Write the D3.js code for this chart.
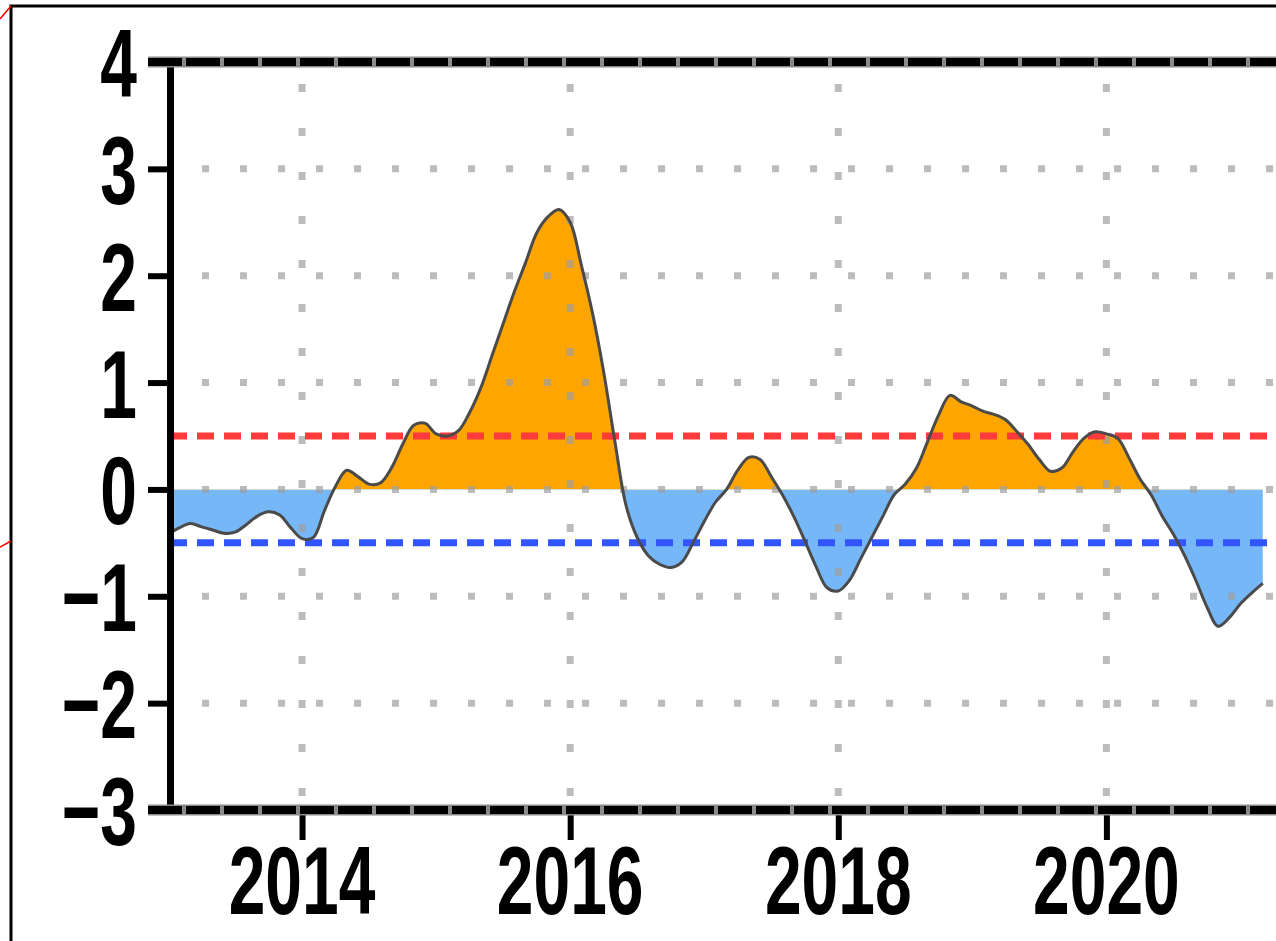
<!DOCTYPE html>
<html>
<head>
<meta charset="utf-8">
<script src="https://cdn.jsdelivr.net/npm/d3@7"></script>
<style>
  body { margin: 0; background: #fff; }
  svg { display: block; }
</style>
</head>
<body>
<svg id="chart" width="1276" height="941"></svg>
<script>
// monthly index values, Jan .. Dec
const START_YEAR = 2013;
const v2013 = [-0.42, -0.36, -0.32, -0.35, -0.38, -0.41, -0.40, -0.33, -0.25, -0.21, -0.24, -0.36];
const v2014 = [-0.46, -0.45, -0.20, 0.03, 0.18, 0.12, 0.05, 0.06, 0.20, 0.42, 0.60, 0.62];
const v2015 = [0.52, 0.50, 0.55, 0.72, 0.95, 1.25, 1.55, 1.85, 2.12, 2.40, 2.55, 2.62];
const v2016 = [2.50, 2.10, 1.65, 1.10, 0.45, -0.15, -0.45, -0.62, -0.70, -0.73, -0.68, -0.50];
const v2017 = [-0.30, -0.12, 0.00, 0.18, 0.30, 0.28, 0.12, -0.05, -0.25, -0.48, -0.72, -0.92];
const v2018 = [-0.95, -0.85, -0.65, -0.45, -0.25, -0.05, 0.05, 0.20, 0.45, 0.70, 0.88, 0.82];
const v2019 = [0.78, 0.73, 0.70, 0.65, 0.54, 0.42, 0.28, 0.17, 0.20, 0.35, 0.48, 0.54];
const v2020 = [0.52, 0.48, 0.30, 0.10, -0.05, -0.25, -0.42, -0.62, -0.85, -1.10, -1.28, -1.20];
const v2021 = [-1.07, -0.97, -0.88];

const yTicks = [-3, -2, -1, 0, 1, 2, 3, 4];
const xTicks = [2014, 2016, 2018, 2020];
const elNino = 0.5;
const laNina = -0.5;

const values = [].concat(v2013, v2014, v2015, v2016, v2017, v2018, v2019, v2020, v2021);
const data = values.map((v, i) => ({ t: START_YEAR + i / 12, v: v }));

const L = 170, T = 62, B = 810, R = 1278;
const svg = d3.select('#chart');

const x = d3.scaleLinear().domain([2013.015, 2021.28]).range([L, R]);
const y = d3.scaleLinear().domain([-3, 4]).range([B, T]);

// outer frame + stray red marks
svg.append('rect')
    .attr('x', 11).attr('y', 6)
    .attr('width', 1300).attr('height', 1000)
    .attr('fill', 'none').attr('stroke', '#000').attr('stroke-width', 3);
svg.append('line').attr('x1', 0).attr('y1', 19).attr('x2', 11).attr('y2', 6)
    .attr('stroke', 'red').attr('stroke-width', 1.5);
svg.append('line').attr('x1', 0).attr('y1', 547).attr('x2', 11).attr('y2', 541)
    .attr('stroke', 'red').attr('stroke-width', 1.5);

svg.append('clipPath').attr('id', 'plot')
    .append('rect').attr('x', L).attr('y', T).attr('width', R - L).attr('height', B - T);
svg.append('clipPath').attr('id', 'above')
    .append('rect').attr('x', L).attr('y', T).attr('width', R - L).attr('height', y(0) - T);
svg.append('clipPath').attr('id', 'below')
    .append('rect').attr('x', L).attr('y', y(0)).attr('width', R - L).attr('height', B - y(0));

const area = d3.area()
    .x(d => x(d.t))
    .y0(y(0))
    .y1(d => y(d.v))
    .curve(d3.curveCatmullRom.alpha(0.5));

const line = d3.line()
    .x(d => x(d.t))
    .y(d => y(d.v))
    .curve(d3.curveCatmullRom.alpha(0.5));

const g = svg.append('g').attr('clip-path', 'url(#plot)');

g.append('path').datum(data)
    .attr('d', area)
    .attr('fill', '#ffa500')
    .attr('clip-path', 'url(#above)');
g.append('path').datum(data)
    .attr('d', area)
    .attr('fill', '#75b7f7')
    .attr('clip-path', 'url(#below)');

// dotted grid
g.selectAll('.hgrid')
    .data(yTicks.filter(d => d > -3 && d < 4))
    .enter().append('line')
    .attr('class', 'hgrid')
    .attr('x1', L + 32).attr('x2', R)
    .attr('y1', d => y(d)).attr('y2', d => y(d))
    .attr('stroke', '#a0a0a0').attr('stroke-width', 7)
    .attr('stroke-dasharray', '7,31')
    .attr('opacity', 0.7);

g.selectAll('.vgrid')
    .data(xTicks)
    .enter().append('line')
    .attr('class', 'vgrid')
    .attr('x1', d => x(d)).attr('x2', d => x(d))
    .attr('y1', T + 22).attr('y2', B)
    .attr('stroke', '#a0a0a0').attr('stroke-width', 7)
    .attr('stroke-dasharray', '8,36')
    .attr('opacity', 0.7);

// threshold lines
g.append('line')
    .attr('x1', L).attr('x2', R)
    .attr('y1', y(elNino)).attr('y2', y(elNino))
    .attr('stroke', '#ff3a3a').attr('stroke-width', 7)
    .attr('stroke-dasharray', '17,10');
g.append('line')
    .attr('x1', L).attr('x2', R)
    .attr('y1', y(laNina)).attr('y2', y(laNina))
    .attr('stroke', '#3355ff').attr('stroke-width', 7)
    .attr('stroke-dasharray', '17,10');

g.append('path').datum(data)
    .attr('d', line)
    .attr('fill', 'none')
    .attr('stroke', '#4a4a4a')
    .attr('stroke-width', 3);

// axes
const yAxis = d3.axisLeft(y).tickValues(yTicks).tickSize(22).tickFormat('');
svg.append('g')
    .attr('transform', 'translate(' + L + ',0)')
    .call(yAxis)
    .call(a => a.select('.domain').attr('stroke-width', 7))
    .call(a => a.selectAll('.tick line').attr('stroke-width', 6));

const xAxis = d3.axisBottom(x).tickValues(xTicks).tickSize(30).tickFormat('');
svg.append('g')
    .attr('transform', 'translate(0,' + B + ')')
    .call(xAxis)
    .call(a => a.select('.domain').remove())
    .call(a => a.selectAll('.tick line').attr('stroke-width', 6));

// thick dashed top and bottom frame
[T, B].forEach(yy => {
    svg.append('line')
        .attr('x1', 148).attr('x2', 1276).attr('y1', yy).attr('y2', yy)
        .attr('stroke', '#8a8a8a').attr('stroke-width', 11);
    svg.append('line')
        .attr('x1', 148).attr('x2', 1276).attr('y1', yy).attr('y2', yy)
        .attr('stroke', '#000').attr('stroke-width', 8)
        .attr('stroke-dasharray', '34,4');
});

// tick labels
svg.selectAll('.ylab')
    .data(yTicks)
    .enter().append('text')
    .attr('class', 'ylab')
    .attr('transform', d => 'translate(137,' + (y(d) + 35) + ') scale(0.68,1)')
    .attr('text-anchor', 'end')
    .style('font-family', '"Liberation Sans", Arial, sans-serif')
    .style('font-weight', 'bold')
    .style('font-size', '97px')
    .text(d => d < 0 ? '\u2212' + Math.abs(d) : d);

svg.selectAll('.xlab')
    .data(xTicks)
    .enter().append('text')
    .attr('class', 'xlab')
    .attr('transform', d => 'translate(' + x(d) + ',914) scale(0.68,1)')
    .attr('text-anchor', 'middle')
    .style('font-family', '"Liberation Sans", Arial, sans-serif')
    .style('font-weight', 'bold')
    .style('font-size', '97px')
    .text(d => d);
</script>
</body>
</html>
